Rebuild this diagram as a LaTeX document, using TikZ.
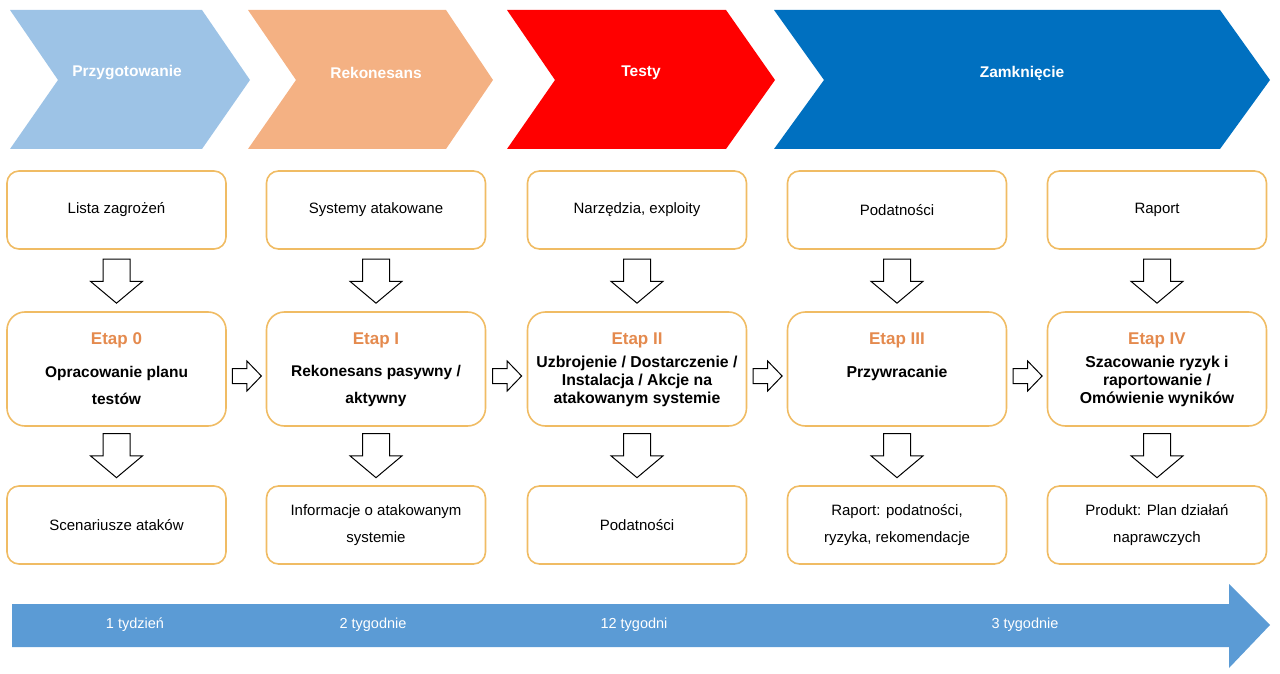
\documentclass[tikz,border=0pt]{standalone}
\usepackage{fontspec}
\setmainfont{Liberation Sans}
\usepackage{tikz}
\usetikzlibrary{positioning,calc,shapes.arrows}

\definecolor{prepblue}{RGB}{157,195,230}
\definecolor{reconorange}{RGB}{244,177,131}
\definecolor{testred}{RGB}{255,0,0}
\definecolor{closeblue}{RGB}{0,112,192}
\definecolor{timeblue}{RGB}{91,155,213}
\definecolor{boxgold}{RGB}{240,188,100}
\definecolor{etaporange}{RGB}{228,138,78}

\begin{document}
\begin{tikzpicture}[x=1pt,y=-1pt,
	phase/.style={text=white,font=\bfseries\fontsize{15.5}{17}\selectfont},
	infobox/.style={draw=boxgold,line width=1.6pt,rounded corners=12pt,
		minimum width=219pt,minimum height=78pt,align=center,
		font=\fontsize{15}{27}\selectfont},
	stagebox/.style={draw=boxgold,line width=1.6pt,rounded corners=18pt,
		minimum width=219pt,minimum height=114pt},
	etap/.style={text=etaporange,font=\bfseries\fontsize{17}{19}\selectfont},
	wide/.style={align=center,font=\bfseries\fontsize{15.5}{27}\selectfont},
	narrow/.style={align=center,font=\bfseries\fontsize{15.8}{18}\selectfont},
	downarrow/.style={single arrow,draw,line width=1pt,inner xsep=0pt,inner ysep=13pt,
		minimum height=44pt,single arrow head extend=12.5pt,
		single arrow tip angle=100,rotate=-90},
	rightarrow/.style={single arrow,draw,line width=1pt,inner xsep=0pt,inner ysep=7pt,
		minimum height=29pt,single arrow head extend=7.5pt,
		single arrow tip angle=92},
	weeks/.style={text=white,font=\fontsize{14.5}{16}\selectfont}
]
\useasboundingbox (0,0) rectangle (1280,674);

% phases
\fill[prepblue] (10,10) -- (202,10) -- (250,80) -- (202,149) -- (10,149) -- (58,80) -- cycle;
\fill[reconorange] (248,10) -- (446,10) -- (493,80) -- (446,149) -- (248,149) -- (296,80) -- cycle;
\fill[testred] (507,10) -- (726,10) -- (775,80) -- (726,149) -- (507,149) -- (555,80) -- cycle;
\fill[closeblue] (774,10) -- (1220,10) -- (1270,80) -- (1220,149) -- (774,149) -- (824,80) -- cycle;
\node[phase] (p0) at (127,73) {Przygotowanie};
\node[phase] (p1) at (376,73) {Rekonesans};
\node[phase] (p2) at (641,73) {Testy};
\node[phase] (p3) at (1022,73) {Zamknięcie};

% inputs
\node[infobox] (t0) at (116.5,210) {Lista zagrożeń};
\node[infobox] (t1) at (376,210) {Systemy atakowane};
\node[infobox] (t2) at (637,210) {Narzędzia, exploity};
\node[infobox] (t3) at (897,210) {Podatności};
\node[infobox] (t4) at (1157,210) {Raport};

% stages
\node[stagebox] (m0) at (116.5,369) {};
\node[stagebox] (m1) at (376,369) {};
\node[stagebox] (m2) at (637,369) {};
\node[stagebox] (m3) at (897,369) {};
\node[stagebox] (m4) at (1157,369) {};
\node[etap, below=18pt of m0.north] (e0) {Etap 0};
\node[etap, below=18pt of m1.north] (e1) {Etap I};
\node[etap, below=18pt of m2.north] (e2) {Etap II};
\node[etap, below=18pt of m3.north] (e3) {Etap III};
\node[etap, below=18pt of m4.north] (e4) {Etap IV};
\node[wide] (s0) at ($(m0.center)+(0,16.5)$) {Opracowanie planu\\testów};
\node[wide] (s1) at ($(m1.center)+(0,16.5)$) {Rekonesans pasywny /\\aktywny};
\node[narrow] (s2) at ($(m2.center)+(0,12)$) {Uzbrojenie / Dostarczenie /\\Instalacja / Akcje na\\atakowanym systemie};
\node[narrow] (s3) at ($(m3.center)+(0,4)$) {Przywracanie};
\node[narrow] (s4) at ($(m4.center)+(0,12)$) {Szacowanie ryzyk i\\raportowanie /\\Omówienie wyników};

% outputs
\node[infobox] (o0) at (116.5,525) {Scenariusze ataków};
\node[infobox] (o1) at (376,525) {Informacje o atakowanym\\systemie};
\node[infobox] (o2) at (637,525) {Podatności};
\node[infobox] (o3) at (897,525) {Raport: podatności,\\ryzyka, rekomendacje};
\node[infobox] (o4) at (1157,525) {Produkt: Plan działań\\naprawczych};

% hollow arrows
\node[downarrow] (a0) at ($(t0.south)!0.5!(m0.north)+(0,-5)$) {};
\node[downarrow] (a1) at ($(t1.south)!0.5!(m1.north)+(0,-5)$) {};
\node[downarrow] (a2) at ($(t2.south)!0.5!(m2.north)+(0,-5)$) {};
\node[downarrow] (a3) at ($(t3.south)!0.5!(m3.north)+(0,-5)$) {};
\node[downarrow] (a4) at ($(t4.south)!0.5!(m4.north)+(0,-5)$) {};
\node[downarrow] (b0) at ($(m0.south)!0.5!(o0.north)+(0,-6)$) {};
\node[downarrow] (b1) at ($(m1.south)!0.5!(o1.north)+(0,-6)$) {};
\node[downarrow] (b2) at ($(m2.south)!0.5!(o2.north)+(0,-6)$) {};
\node[downarrow] (b3) at ($(m3.south)!0.5!(o3.north)+(0,-6)$) {};
\node[downarrow] (b4) at ($(m4.south)!0.5!(o4.north)+(0,-6)$) {};
\node[rightarrow] (r0) at ($(m0.east)!0.5!(m1.west)+(-3,7)$) {};
\node[rightarrow] (r1) at ($(m1.east)!0.5!(m2.west)+(-3,7)$) {};
\node[rightarrow] (r2) at ($(m2.east)!0.5!(m3.west)+(-3,7)$) {};
\node[rightarrow] (r3) at ($(m3.east)!0.5!(m4.west)+(-3,7)$) {};

% timeline
\fill[timeblue] (12,604) -- (1229,604) -- (1229,584) -- (1270,625) -- (1229,668) -- (1229,647) -- (12,647) -- cycle;
\node[weeks] (w0) at (135,625) {1 tydzień};
\node[weeks] (w1) at (373,625) {2 tygodnie};
\node[weeks] (w2) at (634,625) {12 tygodni};
\node[weeks] (w3) at (1025,625) {3 tygodnie};
\end{tikzpicture}
\end{document}
